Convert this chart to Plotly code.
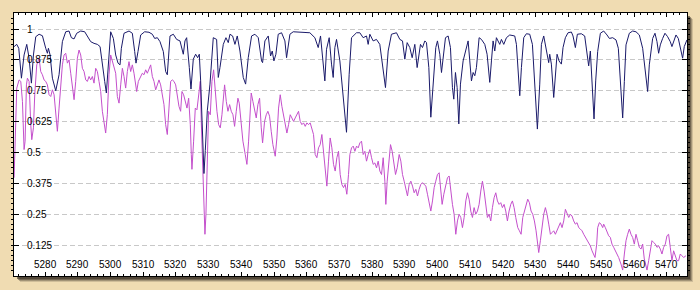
import plotly.graph_objects as go

# ---- data ----
navy_wl = [5270.53, 5271.34, 5271.96, 5272.77, 5273.58, 5274.40, 5275.11, 5275.82, 5276.44, 5277.15,
           5278.17, 5279.18, 5280.20, 5280.71, 5281.02, 5281.53, 5282.24, 5283.26, 5284.27, 5285.29,
           5286.31, 5287.32, 5288.04, 5288.85, 5289.67, 5290.89, 5292.11, 5292.92, 5293.94, 5294.96,
           5295.98, 5296.80, 5297.51, 5298.22, 5298.73, 5299.34, 5300.05, 5300.87, 5301.58, 5302.30,
           5302.91, 5303.31, 5304.13, 5305.66, 5306.67, 5307.39, 5307.79, 5308.40, 5309.22, 5310.44,
           5311.76, 5312.78, 5313.50, 5314.31, 5315.12, 5316.14, 5316.85, 5317.36,
           5318.18, 5319.20, 5320.21, 5321.23, 5322.25, 5322.76, 5323.27, 5324.08, 5324.59, 5325.30,
           5326.02, 5326.63, 5327.14, 5327.55, 5328.16, 5328.56, 5328.97, 5329.58, 5330.40, 5331.41,
           5332.43, 5332.94, 5333.45, 5334.47, 5335.28, 5335.99, 5336.50, 5337.32, 5338.03, 5338.74,
           5339.56, 5340.57, 5341.29, 5342.10, 5343.12, 5344.14, 5345.16, 5346.17, 5346.48, 5347.19,
           5348.21, 5348.92, 5349.43, 5349.94, 5350.55, 5351.26, 5352.28, 5353.30, 5353.81, 5354.83,
           5355.84, 5358.39, 5360.93, 5362.46, 5363.48, 5364.19, 5365.00, 5365.51, 5366.02, 5366.84,
           5367.55, 5368.06, 5368.57, 5369.08, 5370.10, 5371.11, 5372.13, 5372.94, 5373.66, 5375.18,
           5376.20, 5377.22, 5378.24, 5378.75, 5379.26, 5380.28, 5381.29, 5382.31, 5383.33, 5384.04,
           5384.86, 5385.87, 5387.40,
           5388.43, 5389.24, 5389.96, 5390.67, 5391.48, 5392.20, 5393.01, 5393.72, 5394.33, 5394.74,
           5395.35, 5396.07, 5396.57, 5397.29, 5397.90, 5398.61, 5399.42, 5399.93, 5400.65, 5401.16,
           5401.66, 5402.38, 5403.19, 5403.90, 5404.51, 5404.92, 5405.43, 5405.94, 5406.45, 5406.96,
           5407.77, 5408.48, 5409.30, 5409.81, 5410.32, 5410.83, 5411.34, 5411.84, 5412.66, 5413.37,
           5414.39, 5415.10, 5415.92, 5416.43, 5416.93, 5417.44, 5417.95, 5418.97, 5419.48, 5420.19,
           5421.01, 5422.02, 5423.55, 5424.06, 5424.57, 5425.08, 5425.59, 5426.30, 5427.11, 5428.13,
           5428.95, 5429.66, 5430.47, 5431.19, 5431.70, 5432.41, 5432.92, 5433.43, 5433.93, 5434.24,
           5434.75, 5435.46, 5435.87, 5436.48, 5437.09, 5437.80, 5438.31, 5439.02, 5439.84, 5440.86,
           5441.36, 5442.08, 5442.69, 5443.91, 5444.93, 5445.74, 5446.15, 5446.66, 5447.27, 5447.78,
           5448.29,
           5448.90, 5449.72, 5450.73, 5451.75, 5452.47, 5453.48, 5454.50, 5455.21, 5455.82, 5456.54,
           5457.05, 5457.56, 5458.57, 5459.59, 5460.61, 5461.63, 5462.65, 5463.46, 5464.17, 5464.68,
           5465.70, 5466.41, 5467.02, 5467.53, 5468.04, 5468.75, 5469.47, 5470.28, 5471.09, 5471.60,
           5472.11, 5472.83, 5473.54, 5474.15, 5474.86, 5475.37, 5476.18]
navy_flux = [0.929, 0.938, 0.922, 0.801, 0.895, 0.938, 0.882, 0.781, 0.895, 0.969,
             0.979, 0.973, 0.922, 0.902, 0.922, 0.895, 0.801, 0.750, 0.815, 0.949,
             0.989, 0.992, 0.965, 0.960, 0.983, 0.992, 0.989, 0.969, 0.949, 0.942,
             0.938, 0.929, 0.868, 0.788, 0.741, 0.855, 0.989, 0.962, 0.895, 0.862,
             0.855, 0.922, 0.983, 0.992, 0.983, 0.909, 0.862, 0.909, 0.976, 0.989,
             0.987, 0.979, 0.962, 0.965, 0.949, 0.909, 0.828, 0.815,
             0.972, 0.979, 0.958, 0.952, 0.898, 0.952, 0.965, 0.844, 0.757, 0.878,
             0.898, 0.884, 0.898, 0.790, 0.508, 0.415, 0.508, 0.669, 0.777, 0.965,
             0.958, 0.804, 0.844, 0.938, 0.965, 0.945, 0.979, 0.972, 0.938, 0.972,
             0.911, 0.804, 0.777, 0.884, 0.972, 0.979, 0.965, 0.871, 0.864, 0.952,
             0.972, 0.891, 0.911, 0.871, 0.898, 0.979, 0.985, 0.952, 0.884, 0.979,
             0.989, 0.988, 0.985, 0.965, 0.925, 0.972, 0.844, 0.790, 0.918, 0.965,
             0.858, 0.804, 0.925, 0.958, 0.871, 0.737, 0.582, 0.817, 0.965, 0.985,
             0.985, 0.965, 0.972, 0.938, 0.979, 0.952, 0.958, 0.938, 0.831, 0.763,
             0.911, 0.979, 0.985,
             0.958, 0.952, 0.878, 0.945, 0.925, 0.884, 0.938, 0.844, 0.911, 0.938,
             0.925, 0.952, 0.945, 0.844, 0.643, 0.777, 0.925, 0.952, 0.898, 0.824,
             0.884, 0.965, 0.972, 0.925, 0.763, 0.716, 0.824, 0.763, 0.616, 0.777,
             0.871, 0.911, 0.952, 0.871, 0.790, 0.824, 0.811, 0.844, 0.965, 0.958,
             0.938, 0.898, 0.784, 0.871, 0.952, 0.911, 0.965, 0.938, 0.958, 0.938,
             0.965, 0.976, 0.972, 0.938, 0.831, 0.730, 0.844, 0.965, 0.981, 0.979,
             0.938, 0.763, 0.595, 0.777, 0.938, 0.972, 0.938, 0.891, 0.864, 0.898,
             0.858, 0.723, 0.804, 0.898, 0.871, 0.858, 0.925, 0.965, 0.985, 0.988,
             0.972, 0.925, 0.979, 0.981, 0.972, 0.884, 0.851, 0.911, 0.777, 0.636,
             0.790,
             0.909, 0.983, 0.992, 0.976, 0.962, 0.965, 0.956, 0.922, 0.788, 0.640,
             0.788, 0.936, 0.983, 0.992, 0.989, 0.976, 0.922, 0.828, 0.747, 0.855,
             0.962, 0.983, 0.949, 0.902, 0.936, 0.962, 0.983, 0.969, 0.949, 0.929,
             0.949, 0.976, 0.962, 0.922, 0.882, 0.929, 0.956]

mag_wl = [5270.53, 5271.04, 5271.34, 5272.06, 5272.57, 5273.08, 5273.58, 5273.89, 5274.30, 5274.60,
          5275.11, 5275.62, 5275.93, 5276.44, 5276.84, 5277.45, 5278.17, 5278.67, 5279.18, 5279.69,
          5280.20, 5280.71, 5281.22, 5281.73, 5282.24, 5282.75, 5283.26, 5283.76, 5284.27, 5284.78,
          5285.29, 5285.80, 5286.31, 5286.82, 5287.33, 5287.84, 5288.35, 5288.86, 5289.36, 5289.87,
          5290.38, 5290.89, 5291.40, 5291.91, 5292.42, 5292.93, 5293.44, 5293.94, 5294.45, 5294.96,
          5295.47, 5295.98, 5296.49, 5297.00, 5297.51, 5298.02, 5298.52, 5299.03, 5299.54, 5300.05,
          5300.56, 5301.07, 5301.58, 5302.09, 5302.60, 5303.11, 5303.62, 5304.12, 5304.63, 5305.14,
          5305.65, 5306.16, 5306.67, 5307.18, 5307.99, 5308.50, 5309.01, 5309.72, 5310.23, 5310.74,
          5311.25, 5311.76, 5312.27, 5312.78, 5313.29, 5313.80, 5314.30, 5314.81, 5315.32, 5315.83,
          5316.34, 5316.85, 5317.36, 5317.87, 5318.38, 5318.89, 5319.40, 5319.91, 5320.41, 5320.92,
          5321.43,
          5321.84, 5322.35, 5323.06, 5323.37, 5323.88, 5324.39, 5324.69, 5324.89, 5325.40, 5325.91,
          5326.42, 5326.93, 5327.44, 5327.74, 5328.15, 5328.56, 5328.86, 5329.17, 5329.47, 5329.98,
          5330.49, 5331.00, 5331.51, 5332.02, 5332.53, 5333.04, 5333.55, 5334.06, 5334.57, 5334.87,
          5335.38, 5335.89, 5336.40, 5336.91, 5337.42, 5337.92, 5338.43, 5338.94, 5339.35, 5339.86,
          5340.47, 5341.18, 5341.69, 5342.20, 5342.71, 5343.01, 5343.52, 5344.03, 5344.54, 5345.05,
          5345.56, 5346.07, 5346.48, 5347.09, 5347.60, 5348.10, 5348.61, 5349.12, 5349.63, 5350.34,
          5350.85, 5351.36, 5351.87, 5352.38, 5352.89, 5353.40, 5353.91, 5354.42, 5354.93, 5355.43,
          5355.94, 5356.45, 5356.96, 5357.47, 5357.98, 5358.49, 5359.00, 5359.51, 5360.02, 5360.52,
          5361.03, 5361.54, 5362.05, 5362.56, 5363.07, 5363.58, 5364.09, 5364.60, 5365.11, 5365.61,
          5366.12, 5366.63, 5367.14, 5367.65, 5368.16, 5368.67, 5369.18, 5369.69, 5370.20, 5370.70,
          5371.21, 5371.72, 5372.23, 5372.74,
          5373.16, 5373.67, 5374.18, 5374.69, 5375.20, 5375.71, 5376.21, 5376.72, 5377.23, 5377.74,
          5378.25, 5378.76, 5379.27, 5379.78, 5380.29, 5380.80, 5381.30, 5381.81, 5382.32, 5382.83,
          5383.34, 5383.85, 5384.15, 5384.56, 5385.07, 5385.58, 5386.09, 5386.60, 5387.11, 5387.62,
          5388.23, 5388.74, 5389.24, 5389.75, 5390.26, 5390.77, 5391.28, 5391.79, 5392.30, 5392.81,
          5393.32, 5393.83, 5394.33, 5394.84, 5395.35, 5395.86, 5396.37, 5396.88, 5397.39, 5397.90,
          5398.41, 5398.92, 5399.42, 5399.93, 5400.44, 5400.85, 5401.36, 5401.87, 5402.48, 5402.99,
          5403.50, 5404.00, 5404.51, 5405.02, 5405.53, 5406.04, 5406.55, 5407.06, 5407.57, 5408.08,
          5408.59, 5409.10, 5409.60, 5410.11, 5410.62, 5411.13, 5411.64, 5412.15, 5412.66, 5413.17,
          5413.68, 5414.18, 5414.69, 5415.20, 5415.71, 5416.22, 5416.73, 5417.24, 5417.75, 5418.26,
          5418.77, 5419.27, 5419.78, 5420.29, 5420.80, 5421.31, 5421.82, 5422.33, 5422.84, 5423.35,
          5423.86,
          5424.47, 5424.98, 5425.49, 5426.00, 5426.51, 5427.02, 5427.52, 5428.03, 5428.54, 5429.05,
          5429.56, 5430.07, 5430.58, 5430.88, 5431.39, 5431.90, 5432.41, 5432.92, 5433.43, 5433.94,
          5434.45, 5434.96, 5435.46, 5435.97, 5436.48, 5436.99, 5437.50, 5438.01, 5438.52, 5439.03,
          5439.54, 5440.05, 5440.55, 5441.06, 5441.57, 5442.08, 5442.59, 5443.10, 5443.61, 5444.12,
          5444.63, 5445.14, 5445.64, 5446.15, 5446.66, 5447.17, 5447.68, 5448.09, 5448.60, 5448.90,
          5449.41, 5449.92, 5450.43, 5450.73, 5451.24, 5451.75, 5452.26, 5452.77, 5453.28, 5453.79,
          5454.30, 5454.81, 5455.31, 5456.03, 5456.54, 5457.05, 5457.56, 5458.06, 5458.57, 5459.08,
          5459.59, 5460.10, 5460.61, 5461.12, 5461.63, 5462.14, 5462.65, 5463.15, 5463.97, 5464.48,
          5464.98, 5465.49, 5466.00, 5466.51, 5467.02, 5467.53, 5468.04, 5468.55, 5469.06, 5469.57,
          5470.08, 5470.58, 5471.09, 5471.60, 5472.11, 5472.62, 5473.13, 5473.64, 5474.15, 5474.66,
          5475.17, 5475.88]
mag_flux = [0.398, 0.600, 0.761, 0.794, 0.788, 0.707, 0.512, 0.546, 0.774, 0.801,
            0.788, 0.613, 0.552, 0.600, 0.734, 0.855, 0.882, 0.828, 0.815, 0.794,
            0.788, 0.774, 0.734, 0.727, 0.754, 0.734, 0.667, 0.586, 0.680, 0.774,
            0.855, 0.895, 0.902, 0.862, 0.875, 0.821, 0.774, 0.714, 0.788, 0.882,
            0.915, 0.895, 0.841, 0.828, 0.794, 0.788, 0.808, 0.794, 0.808, 0.781,
            0.841, 0.828, 0.788, 0.747, 0.667, 0.626, 0.579, 0.653, 0.815, 0.895,
            0.868, 0.841, 0.821, 0.727, 0.700, 0.774, 0.841, 0.808, 0.761, 0.828,
            0.868, 0.828, 0.855, 0.821, 0.747, 0.788, 0.801, 0.821, 0.815, 0.835,
            0.821, 0.841, 0.855, 0.808, 0.788, 0.754, 0.774, 0.794, 0.774, 0.734,
            0.694, 0.613, 0.573, 0.680, 0.788, 0.794, 0.788, 0.774, 0.734, 0.687,
            0.667,
            0.747, 0.734, 0.700, 0.680, 0.720, 0.613, 0.492, 0.432, 0.546, 0.680,
            0.673, 0.734, 0.788, 0.626, 0.452, 0.250, 0.169, 0.250, 0.452, 0.667,
            0.653, 0.788, 0.835, 0.747, 0.667, 0.613, 0.600, 0.653, 0.747, 0.774,
            0.707, 0.667, 0.694, 0.667, 0.653, 0.606, 0.667, 0.720, 0.700, 0.626,
            0.546, 0.492, 0.452, 0.546, 0.707, 0.741, 0.707, 0.667, 0.640, 0.694,
            0.720, 0.600, 0.539, 0.626, 0.653, 0.667, 0.647, 0.586, 0.532, 0.485,
            0.559, 0.680, 0.734, 0.687, 0.653, 0.613, 0.579, 0.613, 0.653, 0.640,
            0.626, 0.640, 0.653, 0.667, 0.626, 0.613, 0.620, 0.606, 0.620, 0.613,
            0.620, 0.600, 0.573, 0.492, 0.479, 0.519, 0.532, 0.573, 0.505, 0.425,
            0.364, 0.465, 0.559, 0.519, 0.452, 0.425, 0.479, 0.505, 0.411, 0.371,
            0.358, 0.371, 0.331, 0.411,
            0.492, 0.519, 0.526, 0.505, 0.526, 0.519, 0.539, 0.546, 0.492, 0.505,
            0.465, 0.492, 0.512, 0.479, 0.452, 0.458, 0.438, 0.465, 0.425, 0.411,
            0.479, 0.384, 0.290, 0.384, 0.465, 0.532, 0.505, 0.465, 0.411, 0.438,
            0.492, 0.465, 0.411, 0.384, 0.358, 0.324, 0.371, 0.384, 0.364, 0.337,
            0.351, 0.324, 0.351, 0.371, 0.378, 0.371, 0.364, 0.331, 0.290, 0.263,
            0.304, 0.358, 0.384, 0.411, 0.418, 0.358, 0.290, 0.331, 0.371, 0.398,
            0.405, 0.344, 0.290, 0.250, 0.169, 0.223, 0.250, 0.237, 0.196, 0.237,
            0.304, 0.337, 0.311, 0.263, 0.237, 0.277, 0.250, 0.263, 0.290, 0.344,
            0.384, 0.344, 0.277, 0.237, 0.250, 0.223, 0.277, 0.317, 0.337, 0.304,
            0.290, 0.297, 0.277, 0.290, 0.263, 0.223, 0.263, 0.290, 0.304, 0.277,
            0.237,
            0.196, 0.183, 0.169, 0.237, 0.263, 0.290, 0.311, 0.297, 0.263, 0.250,
            0.223, 0.183, 0.129, 0.095, 0.143, 0.210, 0.250, 0.277, 0.250, 0.210,
            0.169, 0.176, 0.183, 0.169, 0.183, 0.196, 0.216, 0.196, 0.223, 0.270,
            0.250, 0.237, 0.250, 0.243, 0.223, 0.210, 0.216, 0.196, 0.190, 0.183,
            0.169, 0.156, 0.143, 0.129, 0.122, 0.102, 0.089, 0.075, 0.129, 0.196,
            0.216, 0.210, 0.196, 0.210, 0.196, 0.176, 0.163, 0.156, 0.129, 0.116,
            0.102, 0.089, 0.075, 0.048, 0.024, 0.089, 0.143, 0.169, 0.190, 0.169,
            0.156, 0.129, 0.169, 0.143, 0.116, 0.109, 0.129, 0.069, 0.024, 0.062,
            0.109, 0.143, 0.136, 0.129, 0.116, 0.122, 0.109, 0.089, 0.116, 0.129,
            0.163, 0.169, 0.116, 0.062, 0.102, 0.082, 0.062, 0.062, 0.089, 0.082,
            0.075, 0.082]

x_ticks = [5280, 5290, 5300, 5310, 5320, 5330, 5340, 5350, 5360, 5370,
           5380, 5390, 5400, 5410, 5420, 5430, 5440, 5450, 5460, 5470]
y_ticks = [0.125, 0.25, 0.375, 0.5, 0.625, 0.75, 0.875, 1]
y_labels = ["0.125", "0.25", "0.375", "0.5", "0.625", "0.75", "0.875", "1"]

X_RANGE = [5270.5, 5476.2]
Y_RANGE = [0, 1.065]

W, H = 700, 290
ML, MR, MT, MB = 14, 13, 13, 14
PW, PH = W - ML - MR, H - MT - MB

fig = go.Figure()
fig.add_trace(go.Scatter(x=mag_wl, y=mag_flux, mode="lines",
                         line=dict(color="#C44FCC", width=1), hoverinfo="skip"))
fig.add_trace(go.Scatter(x=navy_wl, y=navy_flux, mode="lines",
                         line=dict(color="#1A1A6A", width=1), hoverinfo="skip"))

font = dict(family="Liberation Sans, Arial, sans-serif", size=10, color="#000000")

fig.update_layout(
    width=W, height=H,
    margin=dict(l=ML, r=MR, t=MT, b=MB),
    paper_bgcolor="#F0DCB2",
    plot_bgcolor="rgba(0,0,0,0)",
    showlegend=False,
    font=font,
    xaxis=dict(range=X_RANGE, tickvals=x_ticks, showticklabels=False,
               ticks="inside", ticklen=4, tickcolor="#000",
               showgrid=False, zeroline=False, showline=True, linecolor="#000", linewidth=1,
               mirror="allticks",
               minor=dict(dtick=2, ticks="inside", ticklen=2, tickcolor="#000")),
    yaxis=dict(range=Y_RANGE, tickvals=y_ticks, showticklabels=False,
               ticks="inside", ticklen=5, tickcolor="#000",
               showgrid=True, gridcolor="#C8C8C8", griddash="5px,3px", gridwidth=1,
               zeroline=False, showline=True, linecolor="#000", linewidth=1,
               mirror="allticks",
               minor=dict(dtick=0.125 / 6, tick0=0, ticks="outside", ticklen=2,
                          tickcolor="#000", showgrid=False)),
)

# drop shadow behind the plot area (bottom/right)
for off, alpha in [(6, 0.18), (5, 0.3), (4, 0.45), (3, 0.6)]:
    dx, dy = off / PW, off / PH
    fig.add_shape(type="rect", xref="paper", yref="paper",
                  x0=dx, x1=1 + dx, y0=-dy, y1=1 - dy, layer="below",
                  line=dict(width=0), fillcolor=f"rgba(60,50,40,{alpha})")
# white plot face
fig.add_shape(type="rect", xref="paper", yref="paper", x0=0, x1=1, y0=0, y1=1,
              layer="below", line=dict(width=0), fillcolor="#FFFFFF")

# tick labels drawn inside the plot area
for v in x_ticks:
    fig.add_annotation(x=v, xref="x", y=0, yref="paper", text=str(v), showarrow=False,
                       yanchor="middle", yshift=12, font=font)
for v, t in zip(y_ticks, y_labels):
    fig.add_annotation(x=0, xref="paper", y=v, yref="y", text=t, showarrow=False,
                       xanchor="left", xshift=11, font=font)

fig.write_html("out.html")
